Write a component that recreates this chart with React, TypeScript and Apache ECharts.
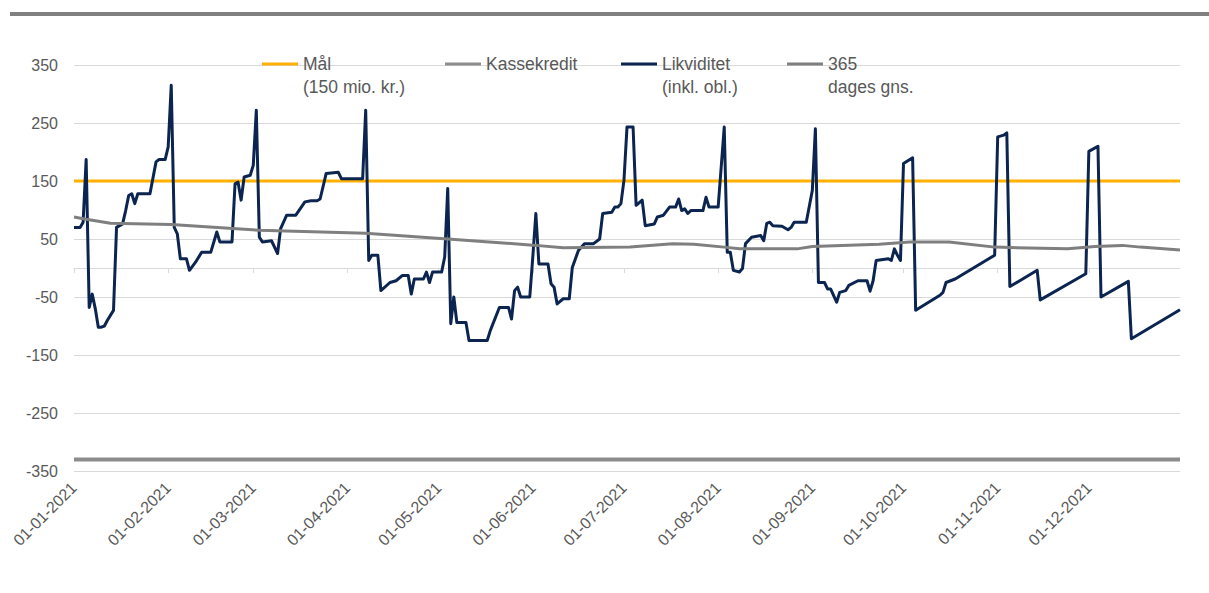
import React, { useEffect, useRef } from "react";
import * as echarts from "echarts";

// Category axis: every day of 2021 (dd-MM-yyyy)
const dates: string[] = [];
for (let i = 0; i < 365; i++) {
  const d = new Date(Date.UTC(2021, 0, 1 + i));
  const dd = String(d.getUTCDate()).padStart(2, "0");
  const mm = String(d.getUTCMonth() + 1).padStart(2, "0");
  dates.push(`${dd}-${mm}-${d.getUTCFullYear()}`);
}

const yTicks = [-350, -250, -150, -50, 50, 150, 250, 350];

// Likviditet (inkl. obl.) – day index of year, value (mio. kr.)
const likvDays = [
  0, 2, 3, 4, 5, 6, 7, 8, 9, 10, 11, 13, 14, 16, 17, 18, 19, 20, 21, 25, 27, 28, 30, 31, 32, 33, 34, 35, 37, 38,
  40, 42, 45, 47, 48, 52, 53, 54, 55, 56, 58, 59, 60, 61, 62, 65, 67, 68, 70, 73, 76, 78, 80, 81, 83, 87, 88, 95,
  96, 97, 98, 100, 101, 104, 106, 108, 110, 111, 112, 115, 116, 117, 118, 121, 122, 123, 124, 125, 126, 129, 130,
  136, 137, 140, 143, 144, 145, 146, 147, 150, 151, 152, 153, 156, 157, 158, 159, 161, 163, 164, 166, 168, 171,
  173, 174, 177, 178, 179, 180, 181, 182, 184, 185, 187, 188, 191, 192, 194, 196, 198, 199, 200, 201, 202, 203,
  207, 208, 209, 212, 214, 215, 216, 217, 219, 220, 221, 223, 226, 227, 228, 229, 230, 233, 235, 236, 237, 241,
  243, 244, 245, 247, 248, 249, 251, 252, 254, 255, 258, 261, 262, 263, 264, 268, 269, 270, 271, 272, 273, 276,
  277, 285, 286, 287, 290, 303, 304, 306, 307, 308, 317, 318, 333, 334, 337, 338, 347, 348, 364,
];
const likvValues = [
  70, 70, 79, 187, -68, -45, -70, -102, -102, -100, -90, -73, 70, 76, 99, 125, 128, 111, 128, 128, 183, 187, 187,
  209, 315, 70, 59, 16, 16, -4, 10, 27, 27, 62, 45, 45, 145, 148, 117, 157, 160, 177, 272, 53, 45, 47, 25, 68, 91,
  91, 114, 116, 116, 119, 163, 165, 154, 154, 272, 13, 22, 22, -39, -25, -22, -13, -13, -45, -19, -19, -7, -25, -7,
  -7, 19, 137, -96, -50, -94, -94, -125, -125, -108, -68, -68, -88, -39, -33, -50, -50, 19, 94, 7, 7, -27, -33, -62,
  -53, -53, 1, 30, 42, 42, 50, 94, 96, 105, 105, 111, 151, 243, 243, 108, 117, 73, 76, 88, 91, 105, 105, 119, 99,
  102, 94, 99, 99, 122, 105, 105, 243, 27, 27, -4, -7, -1, 42, 53, 56, 47, 77, 79, 73, 72, 66, 70, 79, 79, 134, 240,
  -25, -25, -36, -36, -59, -42, -39, -30, -22, -22, -40, -22, 13, 16, 13, 33, 22, 13, 180, 190, -73, -47, -42, -25,
  -19, 22, 226, 229, 233, -32, -4, -55, -10, 201, 210, -50, -23, -122, -72,
];

// 365 dages gennemsnit
const avgDays = [0, 4, 12, 32, 61, 96, 123, 152, 161, 183, 197, 204, 214, 219, 238, 243, 265, 275, 288, 303, 327, 336, 345, 351, 364];
const avgValues = [88, 84, 77, 75, 65, 60, 50, 39, 35, 36, 42, 41, 36, 33, 33, 37, 41, 45, 45, 36, 33, 37, 39, 36, 31];

// Mål and Kassekredit (constant levels)
const maalDays = [0, 364];
const maalValues = [150, 150];
const kasseDays = [0, 364];
const kasseValues = [-330, -330];

const seriesNames = ["Mål (150 mio. kr.)", "Kassekredit", "Likviditet (inkl. obl.)", "365 dages gns."];
const legendLines: Record<string, [string, string]> = {
  "Mål (150 mio. kr.)": ["Mål", "(150 mio. kr.)"],
  Kassekredit: ["Kassekredit", ""],
  "Likviditet (inkl. obl.)": ["Likviditet", "(inkl. obl.)"],
  "365 dages gns.": ["365", "dages gns."],
};

const pairs = (xs: number[], ys: number[]) => xs.map((x, i) => [x, ys[i]]);

export default function App() {
  const ref = useRef<HTMLDivElement>(null);
  useEffect(() => {
    if (!ref.current) return;
    const chart = echarts.init(ref.current, undefined, { renderer: "svg" });
    const isMonthStart = (_i: number, v: string) => v.startsWith("01-");
    const legendFont = "'Liberation Sans', Arial, sans-serif";
    const legendCfg = [
      { name: seriesNames[0], left: 262 },
      { name: seriesNames[1], left: 445 },
      { name: seriesNames[2], left: 621 },
      { name: seriesNames[3], left: 787 },
    ];
    chart.setOption({
      animation: false,
      backgroundColor: "#ffffff",
      textStyle: { fontFamily: "'Liberation Sans', Arial, sans-serif" },
      grid: { left: 74, right: 29, top: 65, bottom: 122, containLabel: false },
      graphic: [
        { type: "rect", left: 10, top: 12, shape: { width: 1199, height: 4 }, style: { fill: "#808080" } },
      ],
      legend: legendCfg.map((l) => ({
        data: [l.name],
        left: l.left,
        top: 29.5,
        padding: 0,
        icon: "rect",
        itemWidth: 36,
        itemHeight: 3,
        selectedMode: false,
        formatter: (n: string) => "\n" + legendLines[n][0] + "\n" + legendLines[n][1],
        textStyle: { color: "#595959", fontSize: 17.5, lineHeight: 23, fontFamily: legendFont },
      })),
      xAxis: [
        {
          type: "category",
          data: dates,
          boundaryGap: false,
          position: "bottom",
          axisLine: { show: true, onZero: true, lineStyle: { color: "#D9D9D9", width: 1 } },
          axisTick: { show: true, interval: isMonthStart, length: 5, lineStyle: { color: "#D9D9D9" } },
          axisLabel: { show: false },
          splitLine: { show: false },
        },
        {
          type: "category",
          data: dates,
          boundaryGap: false,
          position: "bottom",
          axisLine: { show: false, onZero: false },
          axisTick: { show: false },
          axisLabel: {
            show: true,
            interval: isMonthStart,
            rotate: 45,
            margin: 14,
            color: "#595959",
            fontSize: 16,
          },
          splitLine: { show: false },
        },
      ],
      yAxis: {
        type: "value",
        min: yTicks[0],
        max: yTicks[yTicks.length - 1],
        interval: 100,
        axisLine: { show: false },
        axisTick: { show: false },
        axisLabel: { color: "#595959", fontSize: 16, margin: 16 },
        splitLine: { show: true, lineStyle: { color: "#D9D9D9", width: 1 } },
      },
      series: [
        {
          name: seriesNames[0],
          type: "line",
          xAxisIndex: 0,
          data: pairs(maalDays, maalValues),
          showSymbol: false,
          color: "#FFB000",
          lineStyle: { width: 3, color: "#FFB000" },
          z: 3,
        },
        {
          name: seriesNames[1],
          type: "line",
          xAxisIndex: 0,
          data: pairs(kasseDays, kasseValues),
          showSymbol: false,
          color: "#8C8C8C",
          lineStyle: { width: 4, color: "#8C8C8C" },
          z: 3,
        },
        {
          name: seriesNames[2],
          type: "line",
          xAxisIndex: 0,
          data: pairs(likvDays, likvValues),
          showSymbol: false,
          color: "#0B2550",
          lineStyle: { width: 3, color: "#0B2550", join: "round" },
          z: 4,
        },
        {
          name: seriesNames[3],
          type: "line",
          xAxisIndex: 0,
          data: pairs(avgDays, avgValues),
          showSymbol: false,
          color: "#7F7F7F",
          lineStyle: { width: 3, color: "#7F7F7F" },
          z: 5,
        },
      ],
    });
    return () => chart.dispose();
  }, []);
  return (
    <div
      ref={ref}
      style={{ position: "absolute", left: 0, top: 0, width: 1209, height: 593, background: "#fff" }}
    />
  );
}
